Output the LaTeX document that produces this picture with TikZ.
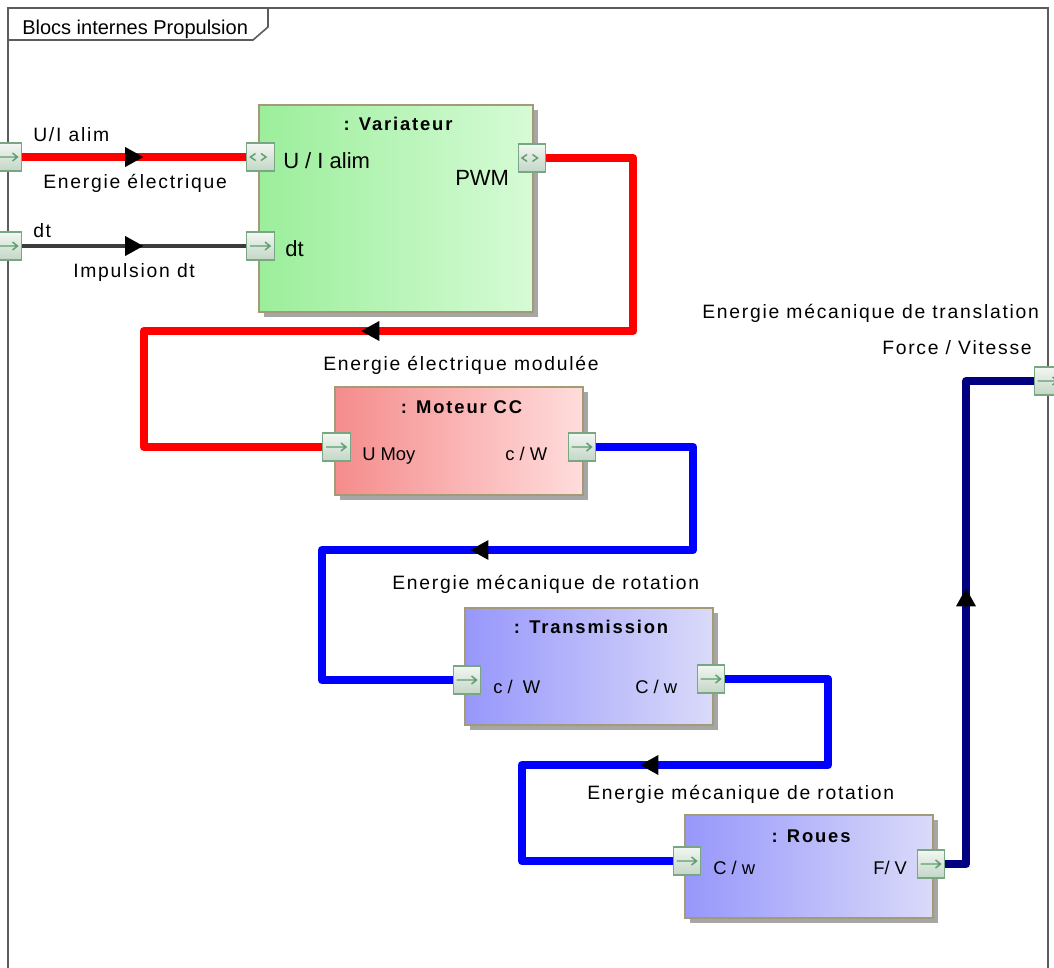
\documentclass[tikz,border=0pt]{standalone}
\usepackage{fontspec}
\setmainfont{Liberation Sans}
\newfontfamily\flowfont[LetterSpace=9]{Liberation Sans}
\newfontfamily\titlefont[LetterSpace=10]{Liberation Sans}
\usetikzlibrary{shadows,decorations.markings}

\definecolor{framegray}{HTML}{5C5C5C}
\definecolor{blockedge}{HTML}{A39B76}
\definecolor{shadowgray}{HTML}{A6A6A6}
\definecolor{portedge}{HTML}{79A783}
\definecolor{portlight}{HTML}{F2F7F2}
\definecolor{portdark}{HTML}{C3D6C6}
\definecolor{portsym}{HTML}{5F9F70}
\definecolor{varL}{HTML}{9BEE9B}
\definecolor{varR}{HTML}{D6FBD6}
\definecolor{motL}{HTML}{F58C8C}
\definecolor{motR}{HTML}{FFDCDC}
\definecolor{bluL}{HTML}{9797FB}
\definecolor{bluR}{HTML}{DADAFA}
\definecolor{navyflow}{HTML}{000080}
\definecolor{dtgray}{HTML}{3C3C3C}

\pgfdeclarelayer{bg}
\pgfsetlayers{bg,main}

\tikzset{
  frameline/.style={draw=framegray, line width=1.2pt},
  block/.style={draw=blockedge, line width=1.1pt, inner sep=0,
    general shadow={fill=shadowgray, shadow xshift=3.5pt, shadow yshift=-3.5pt}},
  port/.style={draw=portedge, line width=0.8pt, top color=portlight, bottom color=portdark,
    minimum width=20.5pt, minimum height=21pt, inner sep=0},
  portin/.style={port, path picture={
    \draw[portsym, line width=1.1pt, shift={(path picture bounding box.center)}]
      (-10.5,0) -- (9.5,0) (4.5,-4) -- (9.5,0) -- (4.5,4);}},
  portbi/.style={port, path picture={
    \draw[portsym, line width=1.1pt, shift={(path picture bounding box.center)}]
      (-5,-3.5) -- (-10,0) -- (-5,3.5) (0.5,-3.5) -- (5.5,0) -- (0.5,3.5);}},
  flowline/.style={line cap=round, line join=round},
  elec/.style={flowline, draw=red, line width=6.6pt},
  meca/.style={flowline, draw=blue, line width=6.4pt},
  trans/.style={flowline, draw=navyflow, line width=6.2pt},
  pulse/.style={flowline, draw=dtgray, line width=2.7pt},
  flow at/.style={postaction={decorate, decoration={markings,
    mark=at position #1 with {\fill[black] (-9,-10) -- (9,0) -- (-9,10) -- cycle;}}}},
  flowlbl/.style={inner sep=0, anchor=base west, font=\flowfont\fontsize{14.5}{17}\selectfont},
  portlbl/.style={inner sep=0, anchor=base west, font=\fontsize{13.8}{16}\selectfont},
  bigportlbl/.style={inner sep=0, anchor=base west, font=\fontsize{16.5}{19}\selectfont},
  blocktitle/.style={inner sep=0, anchor=base, font=\titlefont\bfseries\fontsize{13.8}{16}\selectfont},
}

\begin{document}
\begin{tikzpicture}[x=0.75pt, y=-0.75pt]
\useasboundingbox (0,0) rectangle (1054,968);

% white sheet, frame and its name tab
\begin{pgfonlayer}{bg}
\fill[white] (0,0) rectangle (1054,968);
\draw[frameline] (8,1000) -- (8,8) -- (1048,8) -- (1048,1000);
\draw[frameline] (8,40) -- (253,40) -- (268,27) -- (268,8);
\end{pgfonlayer}
\node[inner sep=0, anchor=base west, font=\fontsize{15}{18}\selectfont] (frametitle) at (22,34.5) {Blocs internes Propulsion};

% blocks
\node[block, left color=varL, right color=varR, minimum width=205.5pt, minimum height=155.25pt] (var) at (396,208.5) {};
\node[block, left color=motL, right color=motR, minimum width=186pt, minimum height=81pt] (mot) at (459,441) {};
\node[block, left color=bluL, right color=bluR, minimum width=186pt, minimum height=87.75pt] (tra) at (589,666.5) {};
\node[block, left color=bluL, right color=bluR, minimum width=186pt, minimum height=77.25pt] (rou) at (809,866.5) {};

\node[blocktitle] (tvar) at (398,130) {: Variateur};
\node[blocktitle] (tmot) at (461.5,413) {: Moteur CC};
\node[blocktitle] (ttra) at (591,633) {: Transmission};
\node[blocktitle] (trou) at (811,842) {: Roues};

% ports
\node[portin] (fin1) at (8,157) {};
\node[portin] (fin2) at (8,246) {};
\node[portbi] (vUI) at (260.5,157) {};
\node[portin] (vdt) at (260.5,246) {};
\node[portbi] (vPWM) at (532,158) {};
\node[portin] (mU) at (336.5,447) {};
\node[portin] (mC) at (582,447) {};
\node[portin] (tC) at (467,680) {};
\node[portin] (tW) at (711,679) {};
\node[portin] (rC) at (687,861) {};
\node[portin] (rF) at (931,864) {};
\node[portin] (fout) at (1048,381) {};

% port labels
\node[bigportlbl] (lvUI) at (283,168) {U / I alim};
\node[bigportlbl] (lvPWM) at (455,185) {PWM};
\node[bigportlbl] (lvdt) at (285,256) {dt};
\node[portlbl] (lmU) at (362,460) {U Moy};
\node[portlbl] (lmC) at (505,460) {c / W};
\node[portlbl] (ltC) at (493,693) {c /\ \ W};
\node[portlbl] (ltW) at (635,693) {C / w};
\node[portlbl] (lrC) at (713,874) {C / w};
\node[portlbl] (lrF) at (873,874) {F/ V};

% connectors
\begin{pgfonlayer}{bg}
\draw[elec, flow at=84pt] (fin1.east) -- (vUI.west);
\draw[pulse, flow at=84pt] (fin2.east) -- (vdt.west);
\draw[elec, flow at=391.9pt] (vPWM.east) -- (633,158) -- (633,331) -- (144,331) -- (144,447) -- (mU.west);
\draw[meca, flow at=310pt] (mC.east) -- (693,447) -- (693,550) -- (322,550) -- (322,680) -- (tC.west);
\draw[meca, flow at=275.6pt] (tW.east) -- (828,679) -- (828,765) -- (522,765) -- (522,861) -- (rC.west);
\draw[trans, flow at=215.6pt] (rF.east) -- (966,864) -- (966,381) -- (fout.west);
\end{pgfonlayer}

% connector labels
\node[flowlbl] (fUI) at (33,141) {U/I alim};
\node[flowlbl] (fE) at (43,188) {Energie électrique};
\node[flowlbl] (fdt) at (33,237) {dt};
\node[flowlbl] (fI) at (73,277) {Impulsion dt};
\node[flowlbl] (fEM) at (323,370) {Energie électrique modulée};
\node[flowlbl] (fR1) at (392,589) {Energie mécanique de rotation};
\node[flowlbl] (fR2) at (587,799) {Energie mécanique de rotation};
\node[flowlbl] (fT) at (702,318) {Energie mécanique de translation};
\node[flowlbl] (fFV) at (882,354) {Force / Vitesse};
\end{tikzpicture}
\end{document}
